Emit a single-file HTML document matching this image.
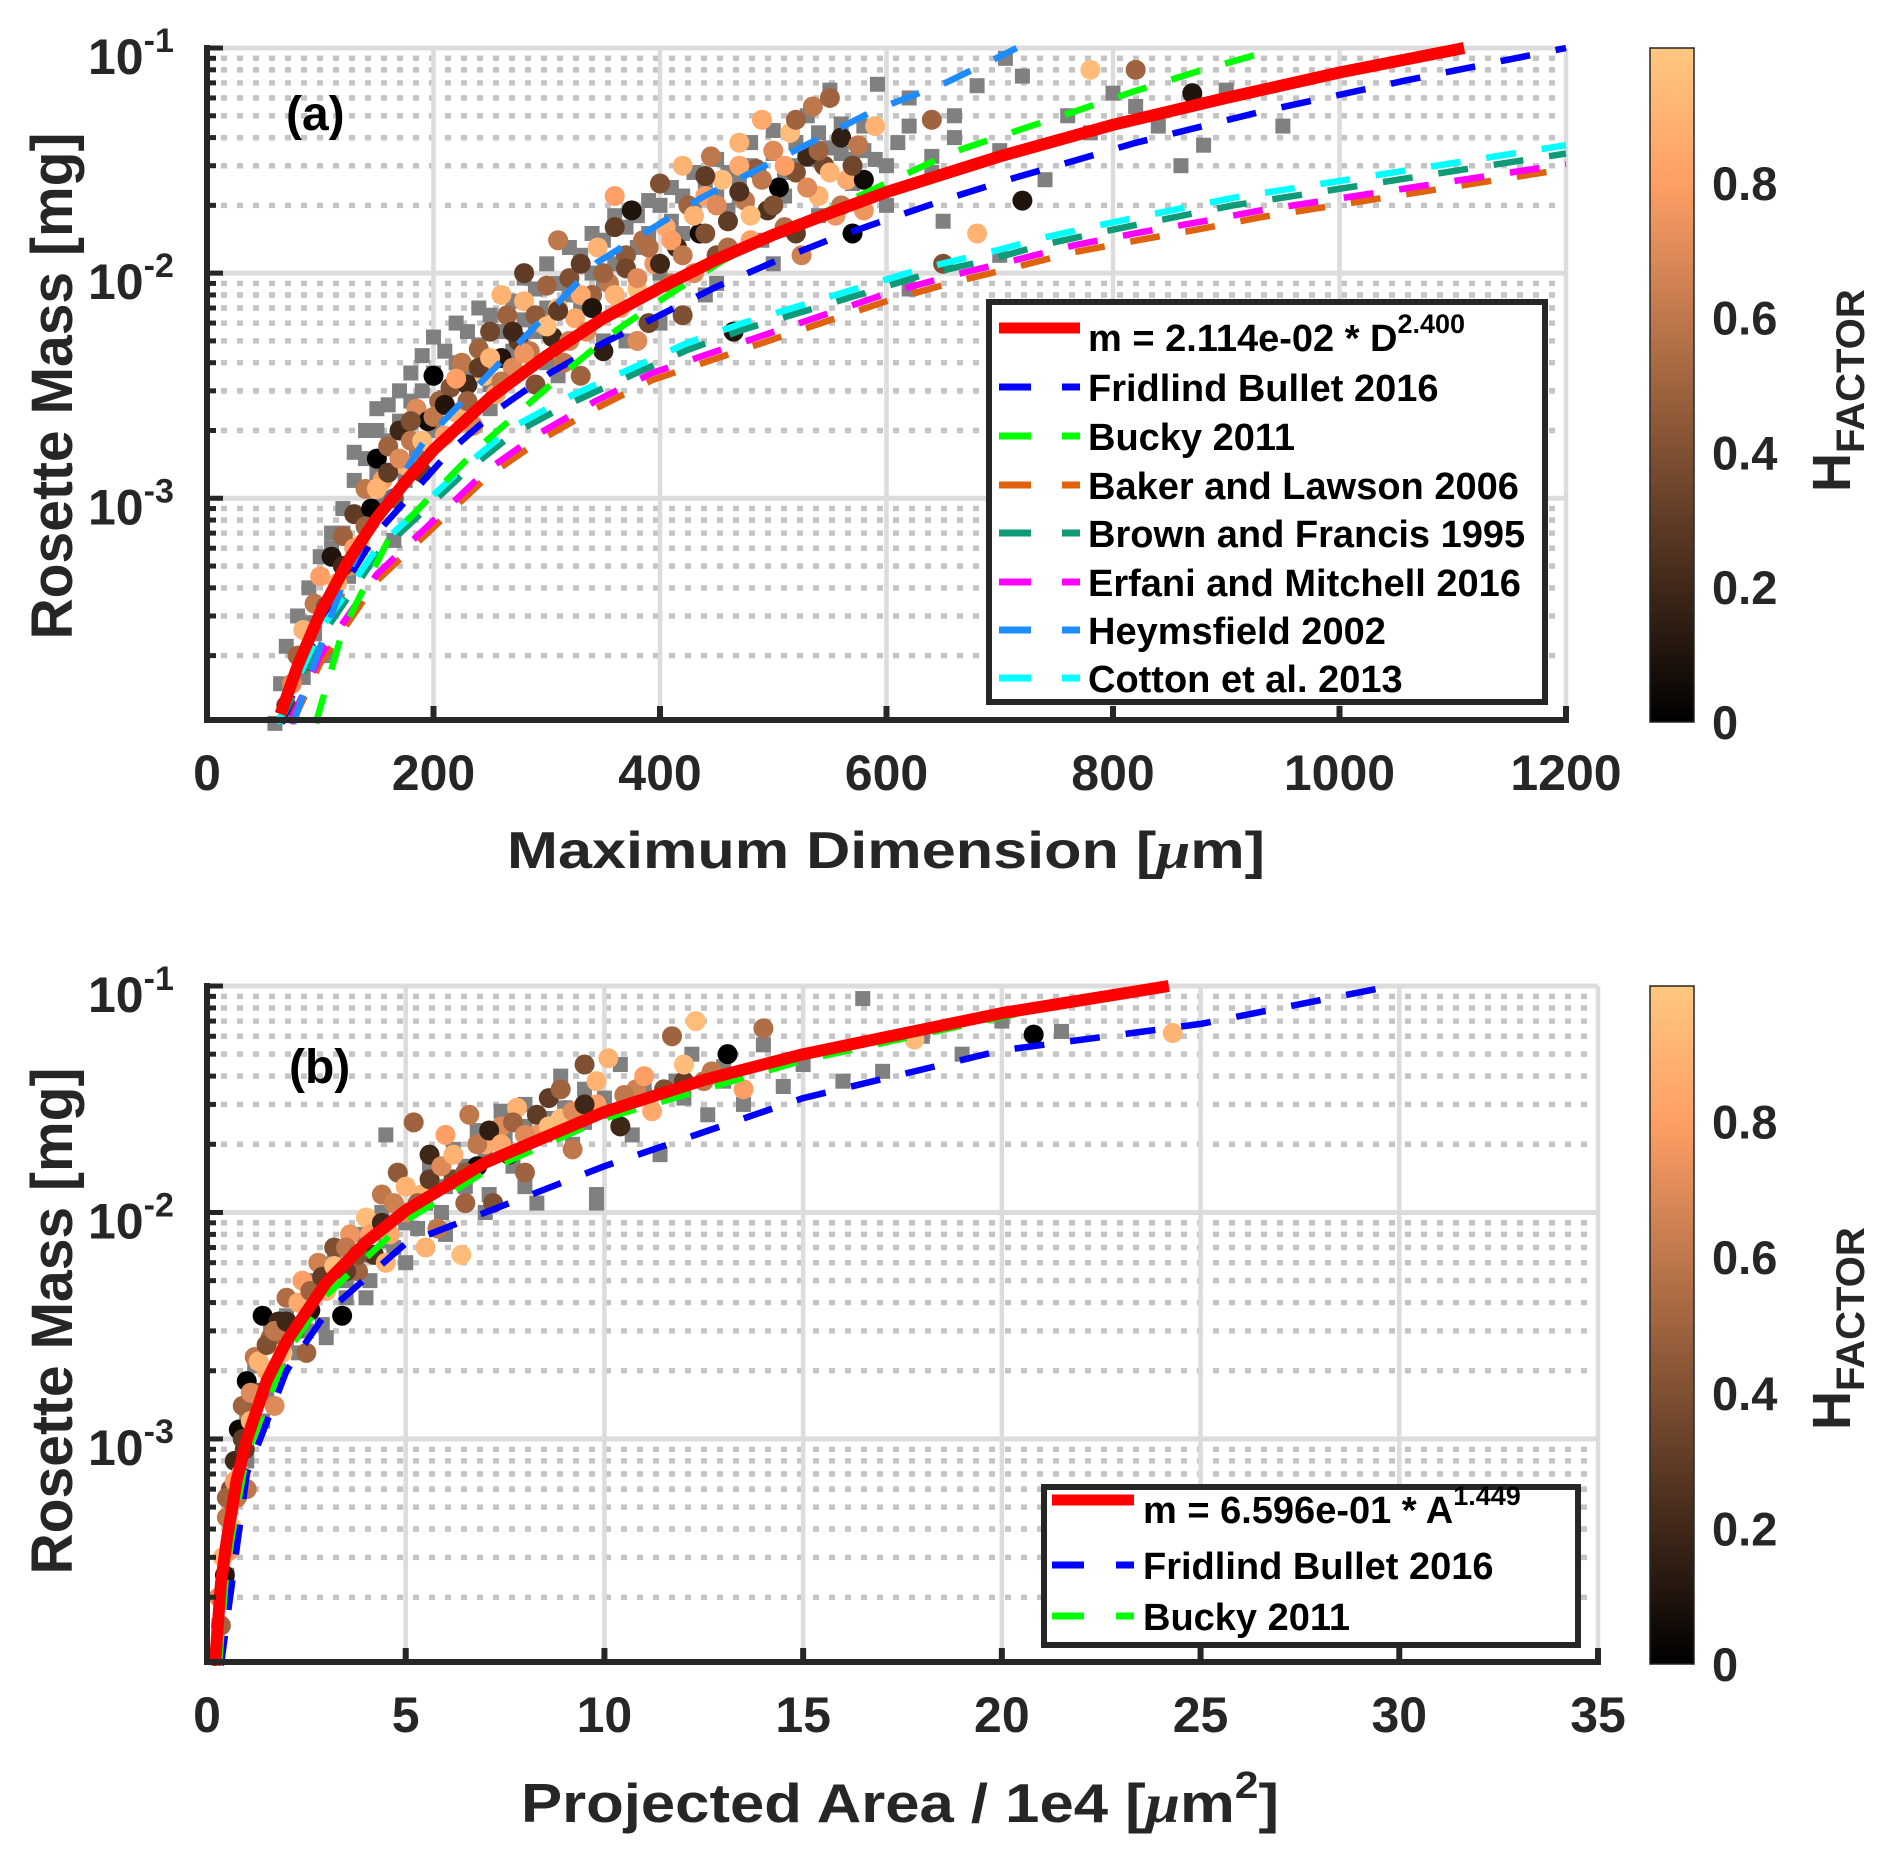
<!DOCTYPE html>
<html><head><meta charset="utf-8">
<style>
html,body{margin:0;padding:0;background:#fff;}
svg{display:block;font-family:"Liberation Sans",Arial,sans-serif;font-weight:bold;}
</style></head>
<body>
<svg id="fig" width="1892" height="1856" viewBox="0 0 1892 1856" xmlns="http://www.w3.org/2000/svg">
<defs>
<linearGradient id="copper" x1="0" y1="1" x2="0" y2="0">
<stop offset="0" stop-color="rgb(0,0,0)"/>
<stop offset="0.25" stop-color="rgb(80,50,32)"/>
<stop offset="0.5" stop-color="rgb(159,100,63)"/>
<stop offset="0.8" stop-color="rgb(255,159,101)"/>
<stop offset="1" stop-color="rgb(255,199,127)"/>
</linearGradient>
</defs>
<g id="panelA"></g>
<g id="panelB"></g>
</svg>
<script>
// ---------- tick data ----------
const xTicksA = [0,200,400,600,800,1000,1200];
const xTicksB = [0,5,10,15,20,25,30,35];
const cbTicks = [0,0.2,0.4,0.6,0.8];

// ---------- Panel (a) scatter ----------
const circA_D = [70,75,80,85,90,95,100,105,110,115,120,125,130,135,140,145,150,155,160,165,170,175,180,185,190,195,200,205,210,215,220,225,230,235,240,245,250,255,260,265,270,275,280,285,290,295,300,305,310,315,320,325,330,335,340,345,350,355,360,365,370,375,380,385,390,395,400,405,410,415,420,425,430,435,440,445,450,455,460,465,470,475,480,485,490,495,500,505,510,515,520,525,530,535,540,545,550,555,560,565,570,575,580,590,640,650,680,720,780,820,870];
const circA_M = [1.2e-4,1.5e-4,2e-4,2.6e-4,1.9e-4,3.4e-4,4.5e-4,3.3e-4,5.5e-4,4.2e-4,6.8e-4,5e-4,8.5e-4,6.2e-4,1.1e-3,9e-4,1.5e-3,1.2e-3,1.7e-3,1e-3,2e-3,1.4e-3,1.8e-3,2.5e-3,1.3e-3,2.2e-3,3.5e-3,2.7e-3,1.9e-3,3.1e-3,2.4e-3,4e-3,3.2e-3,2.1e-3,4.6e-3,3.5e-3,5.5e-3,2.9e-3,4.2e-3,6.5e-3,3.8e-3,5e-3,7.5e-3,4.5e-3,3.2e-3,6e-3,8.8e-3,5.2e-3,7e-3,4e-3,9.5e-3,6.3e-3,1.1e-2,5.5e-3,8e-3,1.3e-2,4.5e-3,9e-3,1.6e-2,7e-3,1.2e-2,1.9e-2,8.5e-3,1.4e-2,6e-3,1.1e-2,2.5e-2,1.6e-2,9e-3,1.3e-2,3e-2,2e-2,1e-2,1.5e-2,2.2e-2,3.3e-2,1.2e-2,2.6e-2,1.7e-2,5.5e-3,3.8e-2,2.1e-2,1.4e-2,2.9e-2,4.8e-2,1.9e-2,3.5e-2,2.4e-2,1.6e-2,4.2e-2,2.8e-2,1.2e-2,3.3e-2,5.5e-2,2.2e-2,3e-2,6e-2,1.8e-2,4e-2,2.6e-2,1.5e-2,3.7e-2,2.6e-2,4.5e-2,4.8e-2,1.1e-2,1.5e-2,2.1e-2,8e-2,8e-2,6.3e-2];
const circA_H = [.3,.7,.5,.9,.2,.6,.8,.4,.1,.9,.5,.7,.3,.95,.6,0,0,.8,.5,.4,.2,.9,.6,.7,.3,.05,0,.5,.8,.4,.9,.6,.2,.7,.5,.95,.35,.85,.1,.5,.7,.3,.9,.6,.4,.8,.5,.2,.95,.6,.4,.85,.3,.7,.5,.9,.15,.6,.3,.8,.45,.1,.95,.55,.35,.75,.4,.85,.6,.2,.9,.5,.7,.05,.8,.6,.4,.95,.3,.1,.9,.6,.8,.45,.85,.25,.7,0,.55,.95,.4,.65,.2,.6,.9,.35,.5,.75,.15,.85,0,.6,.05,.9,.5,.4,.9,.1,.95,.5,.1];
const circA2_D = [110,120,130,140,150,160,170,180,190,200,210,220,230,240,250,260,270,280,290,300,310,320,330,340,350,360,370,380,390,400,410,420,430,440,450,460,470,480,490,500,510,520,530,540,550,560,570,580,330,380,420,360,310,280,260,440,470,520];
const circA2_M = [3.5e-4,5e-4,6e-4,7.5e-4,1.1e-3,1.3e-3,1.5e-3,2.2e-3,1.8e-3,2.3e-3,2.6e-3,3.4e-3,2.7e-3,3.8e-3,4.2e-3,3.3e-3,5.5e-3,4.4e-3,6.5e-3,5.8e-3,6.8e-3,5e-3,8e-3,7e-3,1e-2,8e-3,1.05e-2,9.5e-3,1.3e-2,1.1e-2,1.4e-2,1.2e-2,1.8e-2,1.5e-2,2e-2,1.3e-2,2.3e-2,1.8e-2,2.6e-2,2e-2,3e-2,1.5e-2,2.4e-2,3.5e-2,2.8e-2,2e-2,3e-2,1.9e-2,3.5e-3,5e-3,6.5e-3,2.2e-2,1.4e-2,1e-2,8e-3,2.7e-2,3e-2,4.8e-2];
const circA2_H = [.6,.2,.8,.5,.9,.3,.7,.4,.95,.6,.1,.8,.5,.3,.9,.6,.2,.75,.45,.95,.3,.65,.85,.1,.5,.9,.35,.7,.55,.2,.8,.6,.9,.4,.7,.55,.25,.95,.6,.4,.8,.3,.7,.5,.9,.6,.35,.75,.5,.7,.4,.8,.6,.3,.9,.3,.85,.5];

const sqA_D = [60,65,70,75,80,85,90,95,100,105,110,115,120,125,130,135,140,145,150,155,160,165,170,175,180,185,190,195,200,210,220,230,240,250,260,270,280,290,300,310,320,330,340,350,360,370,380,390,400,410,420,430,440,450,460,470,480,490,500,510,520,530,540,550,560,570,580,590,600,610,620,640,660,680,700,720,740,760,780,800,820,840,860,880,900,950,700,650,620,592,705];
const sqA_M = [1e-4,1.5e-4,2.2e-4,1.1e-4,3e-4,1.6e-4,4e-4,2.5e-4,5.5e-4,2e-4,7e-4,3.5e-4,9e-4,4.5e-4,1.2e-3,6e-4,1.5e-3,8e-4,2e-3,1e-3,2.6e-3,6.5e-4,3e-3,1.2e-3,3.6e-3,1.6e-3,4.3e-3,2.3e-3,5.2e-3,2.8e-3,6e-3,3.5e-3,7e-3,2.5e-3,8e-3,4.5e-3,9.5e-3,5.5e-3,1.1e-2,3.5e-3,1.3e-2,7e-3,1.5e-2,9e-3,1.8e-2,5e-3,1.3e-2,2.1e-2,1e-2,2.4e-2,1.5e-2,2.8e-2,8e-3,3.2e-2,1.9e-2,2.6e-2,3.8e-2,1.4e-2,4.3e-2,2.2e-2,3e-2,5e-2,1.8e-2,6.5e-2,3.4e-2,2.5e-2,4.5e-2,3.2e-2,2e-2,3.8e-2,6e-2,2.8e-2,4e-2,6.8e-2,3.5e-2,7.5e-2,2.6e-2,5e-2,4.2e-2,6.3e-2,5.5e-2,4.5e-2,3e-2,3.7e-2,6.5e-2,4.5e-2,1.2e-2,1.7e-2,8.5e-3,6.9e-2,9e-2];
const sqA2_D = [130,140,150,160,170,180,190,200,210,220,230,240,250,260,270,280,290,300,310,320,330,340,350,360,370,380,390,400,410,420,430,440,450,460,470,480,490,500,510,520,530,540,550,560,570,580,600,620,640,660,300,350,400,450,500,250,200,150,120,100,90,110];
const sqA2_M = [1.6e-3,2e-3,2.5e-3,1.8e-3,2.2e-3,2.7e-3,3e-3,3.6e-3,4.5e-3,4e-3,5.5e-3,4.8e-3,6.5e-3,5.5e-3,7.5e-3,6.2e-3,8.5e-3,7e-3,9e-3,8e-3,1.2e-2,1e-2,1.4e-2,1.1e-2,1.6e-2,1.8e-2,1.5e-2,2e-2,1.7e-2,2.2e-2,1.9e-2,2.5e-2,2.2e-2,2.8e-2,2.2e-2,3e-2,2.6e-2,3.4e-2,2.8e-2,3.8e-2,3.2e-2,4.2e-2,3.6e-2,4.6e-2,3.2e-2,3.5e-2,3e-2,4.5e-2,3.3e-2,5e-2,4e-3,5e-3,6e-3,9e-3,1.1e-2,3.2e-3,2e-3,1.3e-3,7e-4,4.5e-4,2.8e-4,6e-4];

// ---------- Panel (a) curves ----------
const fitA_D = [65,80,100,125,150,175,200,250,300,350,400,450,500,550,600,700,800,900,1000,1110];
const fitA_M = [1.1e-4,1.8e-4,3.1e-4,5.3e-4,8.2e-4,1.18e-3,1.64e-3,2.8e-3,4.3e-3,6.3e-3,8.6e-3,1.15e-2,1.48e-2,1.85e-2,2.29e-2,3.3e-2,4.56e-2,6.0e-2,7.78e-2,0.1];
const fridA_D = [66,100,150,215,256,303,350,397,450,500,553,606,659,712,768,819,930,1060,1200];
const fridA_M = [1e-4,2.8e-4,7e-4,1.63e-3,2.46e-3,3.6e-3,4.9e-3,6.4e-3,8.7e-3,1.12e-2,1.43e-2,1.77e-2,2.18e-2,2.64e-2,3.18e-2,3.78e-2,5.2e-2,7.2e-2,0.1];
const buckyA_D = [96,120,160,200,241,279,321,362,409,456,506,659,712,765,818,872,925,945];
const buckyA_M = [1e-4,2.6e-4,6.5e-4,1.05e-3,1.7e-3,2.5e-3,3.8e-3,5.6e-3,8.1e-3,1.14e-2,1.51e-2,3.45e-2,4.24e-2,5.2e-2,6.4e-2,7.8e-2,9.3e-2,0.1];
const bakerA_D = [75,100,150,247,294,343,393,603,659,713,766,822,877,930,1200];
const bakerA_M = [1e-4,1.85e-4,4.3e-4,1.24e-3,1.81e-3,2.5e-3,3.35e-3,7.6e-3,9.1e-3,1.06e-2,1.24e-2,1.4e-2,1.57e-2,1.77e-2,2.9e-2];
const brownA_D = [64,100,150,226,270,318,371,424,473,579,632,689,742,797,906,1200];
const brownA_M = [1e-4,2.4e-4,5.6e-4,1.28e-3,1.93e-3,2.6e-3,3.45e-3,4.55e-3,5.6e-3,8.1e-3,9.8e-3,1.14e-2,1.35e-2,1.55e-2,2.0e-2,3.4e-2];
const erfaniA_D = [73,100,150,247,294,343,393,603,659,713,766,822,877,930,1200];
const erfaniA_M = [1e-4,2.0e-4,4.6e-4,1.33e-3,1.95e-3,2.7e-3,3.6e-3,8.2e-3,9.8e-3,1.14e-2,1.33e-2,1.51e-2,1.69e-2,1.9e-2,3.05e-2];
const heymA_D = [76,120,150,192,344,438,590,652,694,715];
const heymA_M = [1e-4,4.2e-4,8.4e-4,1.8e-3,1.11e-2,2.18e-2,5.3e-2,7.0e-2,8.85e-2,0.1];
const cottonA_D = [62,100,150,226,270,318,371,424,473,579,632,689,742,797,906,1200];
const cottonA_M = [1e-4,2.6e-4,6.0e-4,1.37e-3,2.07e-3,2.8e-3,3.7e-3,4.9e-3,6.0e-3,8.7e-3,1.05e-2,1.23e-2,1.45e-2,1.67e-2,2.16e-2,3.7e-2];

// ---------- Panel (b) scatter ----------
const circB_A = [0.2,0.3,0.35,0.4,0.45,0.5,0.55,0.6,0.65,0.7,0.75,0.8,0.85,0.9,0.95,1.0,1.1,1.2,1.3,1.4,1.5,1.6,1.7,1.8,1.9,2.0,2.2,2.4,2.6,2.8,3.0,3.2,3.4,3.6,3.8,4.0,4.2,4.4,4.6,4.8,5.0,5.2,5.4,5.6,5.8,6.0,6.2,6.4,6.6,6.8,7.0,7.2,7.4,7.6,7.8,8.0,8.3,8.6,8.9,9.2,9.5,9.8,10.1,10.4,10.8,11.2,11.7,12.0,12.3,12.7,13.1,13.5,14.0,17.8,20.8,24.3,1.0,2.5,3.5,4.5,6.5,5.5];
const circB_M = [1.1e-4,2e-4,1.5e-4,3e-4,2.5e-4,4.5e-4,3.2e-4,6e-4,4e-4,8e-4,5.5e-4,1.1e-3,7e-4,1.4e-3,9e-4,1.8e-3,1.2e-3,2.3e-3,1.6e-3,3.5e-3,2e-3,2.8e-3,1.4e-3,3.3e-3,2.4e-3,4.2e-3,3e-3,5e-3,3.7e-3,6e-3,4.5e-3,7e-3,3.5e-3,8e-3,5.5e-3,9.5e-3,6.5e-3,1.2e-2,8e-3,1.5e-2,1e-2,2.5e-2,1.2e-2,1.8e-2,8.5e-3,2.2e-2,1.4e-2,6.5e-3,2.7e-2,1.6e-2,2e-2,1.1e-2,2.4e-2,1.8e-2,2.9e-2,1.5e-2,2.2e-2,3.2e-2,2.6e-2,1.9e-2,4.5e-2,3e-2,4.8e-2,2.4e-2,3.5e-2,2.8e-2,6e-2,3.8e-2,7e-2,4.2e-2,5e-2,3.5e-2,6.5e-2,5.8e-2,6.1e-2,6.2e-2,6e-4,2.4e-3,5.5e-3,6e-3,1.1e-2,7e-3];
const circB_H = [.3,.7,.5,.9,.1,.6,.8,.4,.95,.2,.6,.05,.8,.5,.3,0,.9,.6,.4,0,.85,.5,.7,.2,.95,.55,.3,.8,.1,.65,.9,.4,0,.75,.5,.95,.25,.6,.85,.45,.7,.5,.9,.2,.6,.8,.35,.95,.6,.05,.85,.4,.7,.15,.9,.5,.75,.3,.95,.6,.4,.8,.9,.2,.65,.85,.5,.3,.95,.6,0,.8,.55,.95,0,.9,.6,.5,.3,.9,.5,.9];
const circB2_A = [0.5,0.7,0.9,1.1,1.3,1.5,1.7,2.0,2.3,2.6,2.9,3.2,3.5,3.8,4.1,4.4,4.7,5.0,5.3,5.6,5.9,6.2,6.5,6.8,7.1,7.4,7.7,8.0,8.3,8.6,8.9,9.2,9.5,9.8,10.5,11,11.5,12,12.5];
const circB2_M = [5.5e-4,6.5e-4,1e-3,1.6e-3,2.2e-3,2.6e-3,3e-3,3.3e-3,4e-3,4.5e-3,5.2e-3,5.8e-3,7e-3,6.5e-3,8e-3,9e-3,1.1e-2,1.3e-2,1.1e-2,1.4e-2,1.6e-2,1.8e-2,1.5e-2,2e-2,2.3e-2,2e-2,2.5e-2,2.2e-2,2.7e-2,2.4e-2,3.5e-2,2.8e-2,3e-2,3.8e-2,3.3e-2,4e-2,3.5e-2,4.5e-2,3.8e-2];
const circB2_H = [.5,.8,.3,.7,.9,.4,.6,.2,.85,.5,.3,.95,.6,.4,.8,.2,.65,.9,.5,.3,.7,.9,.45,.6,.15,.85,.5,.7,.3,.95,.5,.7,.2,.9,.6,.8,.4,.95,.6];

const sqB_A = [0.3,0.5,0.6,0.8,0.9,1.0,1.2,1.4,1.6,1.8,2.0,2.3,2.6,2.9,3.2,3.5,3.8,4.1,4.4,4.7,5.0,5.3,5.6,5.9,6.2,6.5,6.8,7.1,7.4,7.7,8.0,8.3,8.6,8.9,9.2,9.5,9.8,10.1,10.4,10.7,11.0,11.4,11.8,12.2,12.6,13.0,13.5,14.0,14.5,15.0,16.0,16.5,17.0,18.0,19.0,20.0,21.5,4.5,9.8];
const sqB_M = [1.5e-4,2.5e-4,5e-4,8e-4,6e-4,1.3e-3,2.1e-3,1.2e-3,3e-3,2e-3,3.5e-3,2.4e-3,5e-3,3.2e-3,6e-3,4.2e-3,8e-3,5e-3,1e-2,7e-3,1.3e-2,8.5e-3,1.6e-2,1e-2,1.9e-2,1.3e-2,2.3e-2,1.2e-2,2.8e-2,1.6e-2,3e-2,1.1e-2,2.6e-2,4e-2,2e-2,3.5e-2,1.2e-2,2.8e-2,4.5e-2,2.2e-2,3.3e-2,1.8e-2,3.8e-2,5e-2,2.7e-2,4.4e-2,3e-2,5.5e-2,3.6e-2,4.5e-2,3.8e-2,8.8e-2,4.2e-2,6e-2,5e-2,7e-2,6.3e-2,2.2e-2,1.1e-2];
const sqB2_A = [1,1.5,2,2.5,3,3.5,4,4.5,5,5.5,6,6.5,7,7.5,8,8.5,9,9.5,10,10.5,11,12,13,3,4,5,6,7,8];
const sqB2_M = [8e-4,1.6e-3,2.5e-3,3e-3,4.5e-3,5e-3,6.5e-3,7.5e-3,9e-3,1.1e-2,1.3e-2,1.6e-2,1.8e-2,2.1e-2,2.4e-2,2.2e-2,2.9e-2,2.5e-2,3.2e-2,3e-2,3.6e-2,3.2e-2,3.8e-2,2.8e-3,4.2e-3,6e-3,8e-3,1e-2,1.3e-2];

// ---------- Panel (b) curves ----------
const fitB_A = [0.2,0.35,0.5,0.75,1,1.5,2,3,4,5,7,10,12.5,15,20,24.2];
const fitB_M = [1e-4,2.3e-4,3.6e-4,6.6e-4,9.9e-4,1.8e-3,2.7e-3,4.9e-3,7.4e-3,1.02e-2,1.66e-2,2.78e-2,3.85e-2,5.0e-2,7.59e-2,0.1];
const fridB_A = [0.35,1,2,3,5,10,15,20,25,29.8];
const fridB_M = [1e-4,7e-4,2e-3,3.6e-3,7.3e-3,1.6e-2,3.2e-2,5.2e-2,6.8e-2,0.1];
const buckyB_A = [0.3,0.5,1,2,3,5,7,10,15,20,23.8];
const buckyB_M = [1e-4,2.8e-4,8.5e-4,2.4e-3,4.3e-3,9.2e-3,1.52e-2,2.6e-2,4.7e-2,7.3e-2,0.1];

// ---------- drawing ----------
const NS = "http://www.w3.org/2000/svg";
function mk(tag, attrs, parent){
  const e = document.createElementNS(NS, tag);
  for (const k in attrs) e.setAttribute(k, attrs[k]);
  parent.appendChild(e);
  return e;
}
function copper(h){
  const r = Math.round(Math.min(1,1.25*h)*255), g = Math.round(0.7812*h*255), b = Math.round(0.4975*h*255);
  return `rgb(${r},${g},${b})`;
}
const LOGMIN = -3.985, LOGMAX = -1;

function makeAxes(cfg){
  const xs = v => cfg.x0 + v/cfg.xmax*(cfg.x1-cfg.x0);
  const ys = m => cfg.y0 + (LOGMAX - Math.log10(m))/(LOGMAX-LOGMIN)*(cfg.y1-cfg.y0);
  return {xs, ys};
}

function drawPanel(g, cfg, ax, series, scat, legend){
  const {xs, ys} = ax;
  const grid = mk('g', {}, g);
  
  
  for (let e=-4; e<=-2; e++){
    for (let k=2; k<=9; k++){
      const m = k*Math.pow(10,e);
      if (Math.log10(m) < LOGMIN) continue;
      const y = ys(m);
      mk('line', {x1:cfg.x0+14, x2:cfg.x1, y1:y, y2:y, stroke:'#c4c4c4', 'stroke-width':5.5, 'stroke-dasharray':'6 10'}, grid);
    }
  }
  cfg.xticks.forEach(t=>{ if(t>0){ const x=xs(t); mk('line',{x1:x,x2:x,y1:cfg.y0,y2:cfg.y1,stroke:'#dcdcdc','stroke-width':4.5},grid);} });
  [0.1,0.01,0.001].forEach(m=>{ const y=ys(m); mk('line',{x1:cfg.x0,x2:cfg.x1,y1:y,y2:y,stroke:'#dcdcdc','stroke-width':5},grid); });

  const sq = mk('g', {}, g);
  
  
  scat.sqX.forEach((v,i)=>{
    const x=xs(v), y=ys(scat.sqM[i]);
    const r = mk('rect',{x:x-7.5,y:y-7.5,width:15,height:15,fill:'#808080'},sq);
    
    
  });
  const ci = mk('g', {}, g);
  
  
  scat.cX.forEach((v,i)=>{
    const c = mk('circle',{cx:xs(v),cy:ys(scat.cM[i]),r:10,fill:copper(scat.cH[i])},ci);
    
    
  });

  series.forEach(s=>{
    const pts = s.x.map((v,i)=>xs(v).toFixed(1)+','+ys(s.m[i]).toFixed(1)).join(' ');
    const p = mk('polyline',{points:pts,fill:'none',stroke:s.color,'stroke-width':s.solid?12:6.5,'stroke-dasharray':s.solid?'none':'30 26','stroke-linecap':'butt','stroke-linejoin':'round'},g);
    
    
  });

  const axg = mk('g', {}, g);
  
  
  mk('line',{x1:cfg.x0,x2:cfg.x0,y1:cfg.y0-3,y2:cfg.y1+3,stroke:'#262626','stroke-width':6},axg);
  mk('line',{x1:cfg.x0-3,x2:cfg.x1+3,y1:cfg.y1,y2:cfg.y1,stroke:'#262626','stroke-width':6},axg);
  cfg.xticks.forEach(t=>{
    const x=xs(t);
    mk('line',{x1:x,x2:x,y1:cfg.y1,y2:cfg.y1-14,stroke:'#262626','stroke-width':6},axg);
    const tx = mk('text',{x:x,y:cfg.y1+70,'text-anchor':'middle','font-size':50,fill:'#262626'},axg);
    tx.textContent = t;
    
    
  });
  for (let e=-4; e<=-1; e++){
    for (let k=1; k<=9; k++){
      const m = k*Math.pow(10,e);
      if (Math.log10(m) < LOGMIN || Math.log10(m) > LOGMAX+1e-9) continue;
      const y = ys(m);
      mk('line',{x1:cfg.x0,x2:cfg.x0+(k===1?16:9),y1:y,y2:y,stroke:'#262626','stroke-width':5},axg);
    }
  }
  [-1,-2,-3].forEach(e=>{
    const y = ys(Math.pow(10,e));
    const t = mk('text',{x:88,y:y+26,'font-size':50,fill:'#262626'},axg);
    
    
    const a = mk('tspan',{},t); a.textContent='10';
    const b = mk('tspan',{dy:-22,'font-size':34},t); b.textContent=String(e);
  });

  const lg = mk('g', {}, g);
  
  
  mk('rect',{x:legend.x,y:legend.y,width:legend.w,height:legend.h,fill:'#fff',stroke:'#262626','stroke-width':6},lg);
  legend.rows.forEach((r,i)=>{
    const cy = legend.rowsY[i];
    const e = mk('g',{},lg);
    
    
    if (r.solid){
      mk('line',{x1:legend.lx0,x2:legend.lx1,y1:cy,y2:cy,stroke:r.color,'stroke-width':11},e);
    } else {
      mk('line',{x1:legend.lx0,x2:legend.lx0+32,y1:cy,y2:cy,stroke:r.color,'stroke-width':7},e);
      mk('line',{x1:legend.lx1-18,x2:legend.lx1,y1:cy,y2:cy,stroke:r.color,'stroke-width':7},e);
    }
    const t = mk('text',{x:legend.tx,y:cy+14+(r.sup?9:0),'font-size':38,fill:'#000'},e);
    const a = mk('tspan',{},t); a.textContent = r.label;
    if (r.sup){ const s = mk('tspan',{dy:-18,'font-size':27},t); s.textContent = r.sup; }
  });

  const cb = mk('g',{},g);
  
  
  mk('rect',{x:1650,y:cfg.cy0,width:44,height:cfg.cy1-cfg.cy0,fill:'url(#copper)',stroke:'#262626','stroke-width':1.5},cb);
  cbTicks.forEach(v=>{
    const y = cfg.cy1 - v*(cfg.cy1-cfg.cy0);
    const t = mk('text',{x:1712,y:y+17,'font-size':47,fill:'#262626'},cb);
    t.textContent = v===0?'0':v.toFixed(1);
    
    
  });
}

const cfgA = {x0:207,x1:1566,y0:48,y1:720,xmax:1200,xticks:xTicksA,cy0:48,cy1:722};
const axA = makeAxes(cfgA);
drawPanel(document.getElementById('panelA'), cfgA, axA, [
  {name:'fridlind-bullet-2016-line', x:fridA_D, m:fridA_M, color:'#0000ff'},
  {name:'baker-lawson-2006-line', x:bakerA_D, m:bakerA_M, color:'#e0620c'},
  {name:'brown-francis-1995-line', x:brownA_D, m:brownA_M, color:'#0f9a78'},
  {name:'erfani-mitchell-2016-line', x:erfaniA_D, m:erfaniA_M, color:'#ff00ff'},
  {name:'cotton-2013-line', x:cottonA_D, m:cottonA_M, color:'#00ffff'},
  {name:'bucky-2011-line', x:buckyA_D, m:buckyA_M, color:'#00ff00'},
  {name:'heymsfield-2002-line', x:heymA_D, m:heymA_M, color:'#1e8cff'},
  {name:'power-law-fit-line', x:fitA_D, m:fitA_M, color:'#ff0000', solid:true}
], {sqX:sqA_D.concat(sqA2_D), sqM:sqA_M.concat(sqA2_M), cX:circA_D.concat(circA2_D), cM:circA_M.concat(circA2_M), cH:circA_H.concat(circA2_H)},
{x:989,y:302,w:556,h:400,lx0:999,lx1:1080,tx:1088,
 rowsY:[328,387,436,485,533,582,630,678],
 rows:[{label:'m = 2.114e-02 * D',sup:'2.400',color:'#ff0000',solid:true},
  {label:'Fridlind Bullet 2016',color:'#0000ff'},
  {label:'Bucky 2011',color:'#00ff00'},
  {label:'Baker and Lawson 2006',color:'#e0620c'},
  {label:'Brown and Francis 1995',color:'#0f9a78'},
  {label:'Erfani and Mitchell 2016',color:'#ff00ff'},
  {label:'Heymsfield 2002',color:'#1e8cff'},
  {label:'Cotton et al. 2013',color:'#00ffff'}]});

const cfgB = {x0:207,x1:1598,y0:986,y1:1662,xmax:35,xticks:xTicksB,cy0:986,cy1:1664};
const axB = makeAxes(cfgB);
drawPanel(document.getElementById('panelB'), cfgB, axB, [
  {name:'fridlind-bullet-2016-line', x:fridB_A, m:fridB_M, color:'#0000ff'},
  {name:'bucky-2011-line', x:buckyB_A, m:buckyB_M, color:'#00ff00'},
  {name:'power-law-fit-line', x:fitB_A, m:fitB_M, color:'#ff0000', solid:true}
], {sqX:sqB_A.concat(sqB2_A), sqM:sqB_M.concat(sqB2_M), cX:circB_A.concat(circB2_A), cM:circB_M.concat(circB2_M), cH:circB_H.concat(circB2_H)},
{x:1044,y:1487,w:534,h:158,lx0:1052,lx1:1134,tx:1143,
 rowsY:[1500,1565,1616],
 rows:[{label:'m = 6.596e-01 * A',sup:'1.449',color:'#ff0000',solid:true},
  {label:'Fridlind Bullet 2016',color:'#0000ff'},
  {label:'Bucky 2011',color:'#00ff00'}]});
</script>
<svg style="position:absolute;left:0;top:0" width="1892" height="1856" viewBox="0 0 1892 1856" xmlns="http://www.w3.org/2000/svg" font-family="Liberation Sans, Arial, sans-serif" font-weight="bold">
<text x="286" y="130" font-size="48" fill="#000">(a)</text>
<text x="289" y="1083" font-size="48" fill="#000">(b)</text>
<text transform="translate(72,386) rotate(-90)" text-anchor="middle" font-size="58" fill="#262626" textLength="507" lengthAdjust="spacingAndGlyphs">Rosette Mass [mg]</text>
<text transform="translate(72,1321) rotate(-90)" text-anchor="middle" font-size="58" fill="#262626" textLength="507" lengthAdjust="spacingAndGlyphs">Rosette Mass [mg]</text>
<text x="886" y="868" text-anchor="middle" font-size="52" fill="#262626" textLength="758" lengthAdjust="spacingAndGlyphs">Maximum Dimension [<tspan font-style="italic" font-family="Liberation Serif, serif">μ</tspan>m]</text>
<text x="900" y="1822" text-anchor="middle" font-size="55" fill="#262626" textLength="758" lengthAdjust="spacingAndGlyphs">Projected Area / 1e4 [<tspan font-style="italic" font-family="Liberation Serif, serif">μ</tspan>m<tspan dy="-24" font-size="38">2</tspan><tspan dy="24">]</tspan></text>
<text transform="translate(1850,492) rotate(-90)" font-size="54" fill="#262626">H<tspan dy="14" font-size="40">FACTOR</tspan></text>
<text transform="translate(1850,1430) rotate(-90)" font-size="54" fill="#262626">H<tspan dy="14" font-size="40">FACTOR</tspan></text>
</svg>
</body></html>
